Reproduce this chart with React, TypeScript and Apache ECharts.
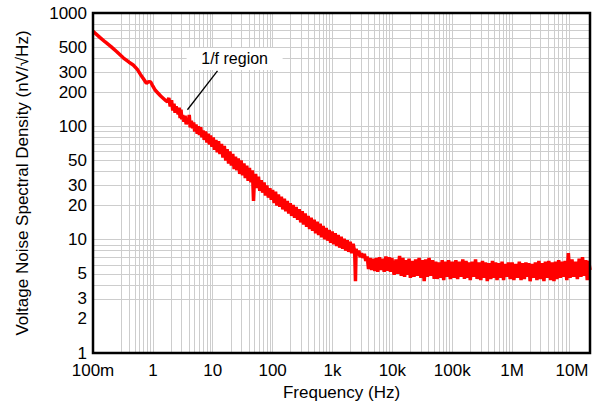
import React, { useEffect, useRef } from "react";
import * as echarts from "echarts";

// Frequency (Hz) / noise density (nV/√Hz) pairs
const lowFreqSegment: [number, number][] = [
  [0.1, 690], [0.13, 610], [0.16, 555], [0.2, 505], [0.25, 455], [0.32, 402], [0.4, 368],
  [0.47, 348], [0.55, 318], [0.62, 287], [0.7, 262], [0.78, 240], [0.85, 248], [0.92, 246],
  [1.0, 226], [1.1, 208], [1.2, 198], [1.35, 185], [1.5, 176], [1.65, 168],
];

const flickerSegment: [number, number][] = [
  [1.75, 165], [1.85, 178], [1.95, 150], [2.05, 170], [2.15, 138], [2.25, 158], [2.35, 132], [2.45, 150],
  [2.55, 138], [2.65, 128], [2.75, 146], [2.85, 118], [2.95, 140], [3.05, 115], [3.15, 126], [3.3, 110],
  [3.45, 124], [3.6, 104], [3.75, 116], [3.9, 108], [4.05, 126], [4.2, 98], [4.4, 112], [4.6, 96],
  [4.8, 108], [5.0, 90], [5.25, 104], [5.5, 86], [5.75, 100], [6.0, 84], [6.3, 98], [6.6, 80],
  [6.9, 92], [7.2, 76], [7.6, 90], [8.0, 72], [8.4, 86], [8.8, 69], [9.2, 83], [9.7, 66],
  [10.2, 80], [10.7, 62], [11.3, 76], [11.9, 59], [12.5, 74], [13.2, 57], [14, 70], [14.8, 53],
  [15.6, 67], [16.5, 50], [17.4, 63], [18.4, 47], [19.4, 60], [20.5, 45], [21.6, 57], [22.8, 42],
  [24, 54], [25.3, 41], [26.7, 52], [28.2, 38], [29.8, 50], [31.5, 37], [33.2, 47], [35, 35],
  [37, 45], [39, 33], [41, 43], [43.5, 32], [46, 41], [48, 22], [49.5, 33], [52, 38],
  [55, 28.5], [58, 36], [61, 27], [64.5, 33.5], [68, 26], [72, 32], [76, 24.5], [80, 30],
  [85, 23.5], [90, 28.5], [95, 22.5], [100, 27.5],
];

const cornerSegment: [number, number][] = [
  [106, 21], [112, 26.5], [118, 20], [125, 25], [132, 19.5], [140, 24], [148, 18.5], [157, 23],
  [166, 17.8], [176, 22], [186, 17], [197, 21], [208, 16.2], [220, 20.2], [233, 15.6], [247, 19.4],
  [262, 15], [278, 18.6], [295, 14.2], [312, 17.8], [330, 13.6], [350, 17], [370, 13], [392, 16.2],
  [415, 12.4], [440, 15.6], [466, 12], [494, 15], [523, 11.4], [554, 14.4], [587, 11], [622, 13.8],
  [659, 10.5], [698, 13.2], [740, 10.1], [784, 12.7], [830, 9.8], [880, 12.2], [932, 9.4], [988, 11.8],
  [1047, 9.1], [1109, 11.4], [1175, 8.8], [1245, 11], [1319, 8.5], [1397, 10.6], [1480, 8.3], [1568, 10.2],
  [1661, 8.0], [1760, 9.9], [1865, 7.8], [1976, 9.6], [2093, 7.6], [2217, 9.2], [2350, 7.7], [2420, 4.3],
  [2480, 8.3], [2600, 7.3], [2750, 8.0], [2900, 7.0], [3050, 7.6], [3200, 6.9], [3400, 7.5], [3600, 6.5],
  [3800, 7.1], [4000, 5.5], [4250, 6.9], [4500, 5.4], [4800, 6.8], [5100, 5.3], [5400, 6.9], [5700, 5.2],
  [6100, 7.0], [6500, 5.4], [6900, 6.8], [7300, 5.2], [7800, 7.1], [8300, 5.3], [8800, 7.0], [9300, 5.2],
  [9800, 6.9],
];

const whiteSegment: [number, number][] = [
  [1.0e4, 6.9], [1.07e4, 4.9], [1.15e4, 6.7], [1.23e4, 5.0], [1.32e4, 7.2], [1.41e4, 4.8], [1.5e4, 6.9], [1.6e4, 4.7],
  [1.7e4, 6.6], [1.8e4, 4.9], [1.9e4, 6.8], [2.0e4, 4.6], [2.15e4, 6.5], [2.3e4, 4.7], [2.45e4, 6.7], [2.6e4, 4.8],
  [2.8e4, 6.9], [3.0e4, 4.6], [3.2e4, 6.6], [3.4e4, 4.3], [3.6e4, 6.7], [3.85e4, 4.7], [4.1e4, 6.9], [4.4e4, 4.8],
  [4.7e4, 6.6], [5.0e4, 4.5], [5.3e4, 6.4], [5.6e4, 4.5], [6.0e4, 6.3], [6.4e4, 4.6], [6.8e4, 6.6], [7.2e4, 4.4],
  [7.7e4, 6.4], [8.2e4, 4.7], [8.7e4, 6.6], [9.3e4, 4.5],
  [1.0e5, 6.4], [1.07e5, 4.6], [1.15e5, 6.6], [1.23e5, 4.5], [1.32e5, 6.4], [1.41e5, 4.7], [1.5e5, 6.7], [1.6e5, 4.5],
  [1.7e5, 6.5], [1.8e5, 4.6], [1.9e5, 6.3], [2.0e5, 4.4], [2.15e5, 6.4], [2.3e5, 4.7], [2.45e5, 6.7], [2.6e5, 4.5],
  [2.8e5, 6.3], [3.0e5, 4.4], [3.2e5, 6.5], [3.4e5, 4.6], [3.6e5, 6.3], [3.85e5, 4.3], [4.1e5, 6.2], [4.4e5, 4.5],
  [4.7e5, 6.5], [5.0e5, 4.6], [5.3e5, 6.3], [5.6e5, 4.4], [6.0e5, 6.2], [6.4e5, 4.6], [6.8e5, 6.4], [7.2e5, 4.4],
  [7.7e5, 6.1], [8.2e5, 4.7], [8.7e5, 6.3], [9.3e5, 4.5],
  [1.0e6, 6.3], [1.07e6, 4.4], [1.15e6, 6.1], [1.23e6, 4.6], [1.32e6, 6.4], [1.41e6, 4.4], [1.5e6, 6.2], [1.6e6, 4.5],
  [1.7e6, 6.3], [1.8e6, 4.7], [1.9e6, 6.2], [2.0e6, 4.3], [2.15e6, 6.1], [2.3e6, 4.6], [2.45e6, 6.3], [2.6e6, 4.4],
  [2.8e6, 6.5], [3.0e6, 4.5], [3.2e6, 6.2], [3.4e6, 4.3], [3.6e6, 6.4], [3.85e6, 4.6], [4.1e6, 6.5], [4.4e6, 4.4],
  [4.7e6, 6.3], [5.0e6, 4.3], [5.3e6, 6.4], [5.6e6, 4.5], [6.0e6, 6.6], [6.4e6, 4.6], [6.8e6, 6.4], [7.2e6, 4.7],
  [7.7e6, 6.5], [8.2e6, 4.4], [8.7e6, 7.6], [9.3e6, 4.6],
  [1.0e7, 6.7], [1.07e7, 4.7], [1.15e7, 6.4], [1.23e7, 4.5], [1.32e7, 6.8], [1.41e7, 4.7], [1.5e7, 7.0], [1.6e7, 4.8],
  [1.7e7, 6.6], [1.8e7, 4.4], [1.9e7, 6.5], [2.0e7, 5.4],
];

const xLabelValues = [0.1, 1, 10, 100, 1e3, 1e4, 1e5, 1e6, 1e7];
const xLabelTexts = ["100m", "1", "10", "100", "1k", "10k", "100k", "1M", "10M"];
const xGridValues = [
  0.2, 0.3, 0.4, 0.5, 0.6, 0.7, 0.8, 0.9,
  1, 2, 3, 4, 5, 6, 7, 8, 9,
  10, 20, 30, 40, 50, 60, 70, 80, 90,
  100, 200, 300, 400, 500, 600, 700, 800, 900,
  1e3, 2e3, 3e3, 4e3, 5e3, 6e3, 7e3, 8e3, 9e3,
  1e4, 2e4, 3e4, 4e4, 5e4, 6e4, 7e4, 8e4, 9e4,
  1e5, 2e5, 3e5, 4e5, 5e5, 6e5, 7e5, 8e5, 9e5,
  1e6, 2e6, 3e6, 4e6, 5e6, 6e6, 7e6, 8e6, 9e6,
  1e7,
];
const yLabelValues = [1, 2, 3, 5, 10, 20, 30, 50, 100, 200, 300, 500, 1000];
const yGridValues = [
  2, 3, 4, 5, 6, 7, 8, 9,
  10, 20, 30, 40, 50, 60, 70, 80, 90,
  100, 200, 300, 400, 500, 600, 700, 800, 900,
];

const annotationText = "1/f region";
const annotationAt: [number, number] = [23.2, 393];
const arrowFrom: [number, number] = [12, 308];
const arrowTo: [number, number] = [3.78, 140];

const FONT = "'Liberation Sans', Arial, sans-serif";

export default function App() {
  const ref = useRef<HTMLDivElement>(null);
  useEffect(() => {
    if (!ref.current) return;
    document.body.style.margin = "0";
    const chart = echarts.init(ref.current, undefined, { renderer: "svg" });
    const data = [...lowFreqSegment, ...flickerSegment, ...cornerSegment, ...whiteSegment];
    const gridLine = { show: true, lineStyle: { color: "#cdcdcd", width: 1 }, showMinLine: false, showMaxLine: false };
    chart.setOption({
      animation: false,
      backgroundColor: "#ffffff",
      textStyle: { fontFamily: FONT },
      grid: {
        left: 93, right: 5, top: 13, bottom: 53,
        outerBoundsMode: "none", containLabel: false,
        show: true, borderColor: "#000", borderWidth: 2.5, backgroundColor: "transparent", z: 5,
      },
      xAxis: {
        type: "log", logBase: 10, min: 0.1, max: 2e7,
        name: "Frequency (Hz)", nameLocation: "middle", nameGap: 31,
        nameTextStyle: { fontSize: 17, color: "#000", fontFamily: FONT },
        axisLine: { show: false },
        axisTick: { show: false, customValues: xGridValues },
        axisLabel: {
          customValues: xLabelValues, fontSize: 17, color: "#000", margin: 9, fontFamily: FONT,
          formatter: (v: number) => {
            const i = xLabelValues.findIndex((x) => Math.abs(Math.log10(x) - Math.log10(v)) < 1e-6);
            return i >= 0 ? xLabelTexts[i] : "";
          },
        },
        splitLine: gridLine,
      },
      yAxis: {
        type: "log", logBase: 10, min: 1, max: 1000,
        name: "Voltage Noise Spectral Density (nV/\u221AHz)", nameLocation: "middle", nameGap: 62,
        nameTextStyle: { fontSize: 17, color: "#000", fontFamily: FONT },
        axisLine: { show: false },
        axisTick: { show: false, customValues: yGridValues },
        axisLabel: {
          customValues: yLabelValues, fontSize: 17, color: "#000", margin: 6, fontFamily: FONT,
          formatter: (v: number) => String(Math.round(v)),
        },
        splitLine: gridLine,
      },
      series: [
        {
          type: "line",
          data,
          showSymbol: false,
          symbol: "none",
          lineStyle: { color: "#ff0000", width: 3.5 },
          z: 3,
          markLine: {
            silent: true,
            symbol: ["none", "arrow"],
            symbolSize: [0, 11],
            lineStyle: { color: "#000", width: 1.3, type: "solid" },
            label: { show: false },
            data: [[{ coord: arrowFrom }, { coord: arrowTo }]],
          },
          markPoint: {
            silent: true,
            data: [
              {
                coord: annotationAt,
                symbol: "rect",
                symbolSize: [96, 22],
                itemStyle: { color: "#ffffff" },
                label: {
                  show: true, position: "inside", formatter: annotationText,
                  color: "#000", fontSize: 16, fontFamily: FONT,
                },
              },
            ],
          },
        },
      ],
    });
    return () => chart.dispose();
  }, []);
  return <div ref={ref} style={{ width: 595, height: 406 }} />;
}
